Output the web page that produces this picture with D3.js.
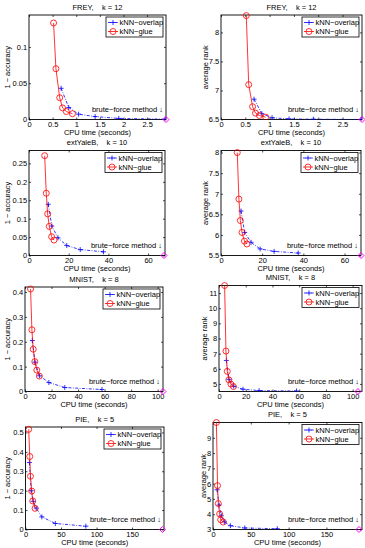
<!DOCTYPE html>
<html>
<head>
<meta charset="utf-8">
<script src="https://cdn.jsdelivr.net/npm/d3@7"></script>
<style>
  body { margin: 0; background: #fff; }
  svg { display: block; font-family: "Liberation Sans", Arial, sans-serif; }
</style>
</head>
<body>
<div id="chart"></div>
<script>
// ---- data ----
const titles = ["FREY,    k = 12", "extYaleB,    k = 10", "MNIST,    k = 8", "PIE,    k = 5"];
const seriesNames = ["kNN\u2212overlap", "kNN\u2212glue"];
const bruteLabel = "brute\u2212force method \u2193";

// CPU time (seconds)
const overlapTime = [
  [0.68, 0.84, 1.05, 1.4, 1.9, 2.88],
  [9.7, 11.5, 14.6, 19, 25.8, 37.5],
  [5.5, 7.5, 11, 18, 30, 58],
  [5.5, 8, 11, 15, 23, 42, 85]
];
const glueTime = [
  [0.52, 0.57, 0.65, 0.71, 0.79, 0.92],
  [7.9, 8.7, 9.4, 10.2, 11.4, 12.6],
  [4.2, 5.2, 6.2, 7.4, 8.9, 10.8],
  [4.5, 6, 7, 8.8, 10.2, 13.5]
];
// 1 - accuracy
const overlapErr = [
  [0.043, 0.0166, 0.0073, 0.004, 0.0015, 0.0004],
  [0.139, 0.080, 0.048, 0.027, 0.016, 0.010],
  [0.205, 0.118, 0.063, 0.036, 0.016, 0.008],
  [0.345, 0.20, 0.145, 0.11, 0.065, 0.031, 0.017]
];
const glueErr = [
  [0.133, 0.070, 0.030, 0.016, 0.011, 0.008],
  [0.271, 0.169, 0.113, 0.079, 0.051, 0.042],
  [0.412, 0.248, 0.170, 0.120, 0.086, 0.062],
  [0.516, 0.376, 0.274, 0.198, 0.147, 0.109]
];
// average rank
const overlapRank = [
  [6.85, 6.6, 6.53, 6.51, 6.505, 6.5],
  [6.58, 6.06, 5.82, 5.66, 5.6, 5.56],
  [6.55, 5.3, 4.85, 4.65, 4.56, 4.53],
  [5.6, 4.6, 3.9, 3.5, 3.25, 3.1, 3.05]
];
const glueRank = [
  [8.29, 7.1, 6.72, 6.61, 6.57, 6.54],
  [8.0, 6.87, 6.35, 6.06, 5.85, 5.78],
  [11.5, 7.17, 5.83, 5.27, 4.99, 4.83],
  [10.0, 5.87, 4.70, 4.02, 3.64, 3.49]
];
// brute force: CPU time, error 0, rank (k+1)/2
const bruteTime = [2.9, 68, 104, 193];
const bruteRank = [6.5, 5.5, 4.5, 3];

// axis limits and ticks
const xMaxLeft = [2.9, 68.5, 104, 195];
const xMaxRight = [2.9, 68, 107, 197];
const xTicks = [[0, 0.5, 1, 1.5, 2, 2.5], [0, 20, 40, 60], [0, 20, 40, 60, 80, 100], [0, 50, 100, 150]];
const errLim = [[0, 0.144], [0, 0.285], [0, 0.42], [0, 0.528]];
const errTicks = [[0, 0.05, 0.1], [0, 0.05, 0.1, 0.15, 0.2, 0.25], [0, 0.1, 0.2, 0.3, 0.4], [0, 0.1, 0.2, 0.3, 0.4, 0.5]];
const rankLim = [[6.5, 8.3], [5.5, 8.05], [4.5, 11.5], [3, 10]];
const rankTicks = [[6.5, 7, 7.5, 8], [5.5, 6, 6.5, 7, 7.5, 8], [5, 6, 7, 8, 9, 10, 11], [3, 4, 5, 6, 7, 8, 9]];

// axes boxes [left, top, right, bottom], y-label baseline x
const leftBoxes = [[29, 15, 166, 119.5], [29, 150.5, 165, 255.5], [25, 287, 163, 391.5], [25.5, 427, 164, 529.5]];
const rightBoxes = [[221, 15, 362, 119.5], [221, 150.5, 361, 255.5], [219, 285.5, 362, 391.5], [213, 422.5, 362, 529.5]];
const leftYLabelX = [10, 10, 10, 10];
const rightYLabelX = [207.5, 207.5, 207, 205.5];

const W = 365, H = 548;
const fs = 7.5;

const svg = d3.select("#chart").append("svg")
  .attr("width", W).attr("height", H);

const fmt = d => String(+d.toFixed(3));

function drawPanel(box, xMax, yLim, yTicksV, ti, yLabel, yLabelX, ovX, ovY, glX, glY, bfX, bfY) {
  const [l, t, r, b] = box;
  const x = d3.scaleLinear().domain([0, xMax]).range([l, r]);
  const y = d3.scaleLinear().domain(yLim).range([b, t]);
  const g = svg.append("g");

  // clip for the data lines
  const id = "clip" + Math.round(l) + "_" + Math.round(t);
  svg.append("clipPath").attr("id", id)
    .append("rect").attr("x", l).attr("y", t - 4).attr("width", r - l).attr("height", b - t + 4);

  // axes with inward ticks on all four sides
  g.append("g").attr("transform", `translate(0,${b})`)
    .call(d3.axisBottom(x).tickValues(xTicks[ti]).tickFormat(fmt).tickSizeInner(-2).tickSizeOuter(0).tickPadding(2.2));
  g.append("g").attr("transform", `translate(0,${t})`)
    .call(d3.axisTop(x).tickValues(xTicks[ti]).tickFormat("").tickSizeInner(-2).tickSizeOuter(0));
  g.append("g").attr("transform", `translate(${l},0)`)
    .call(d3.axisLeft(y).tickValues(yTicksV).tickFormat(fmt).tickSizeInner(-2).tickSizeOuter(0).tickPadding(1.8));
  g.append("g").attr("transform", `translate(${r},0)`)
    .call(d3.axisRight(y).tickValues(yTicksV).tickFormat("").tickSizeInner(-2).tickSizeOuter(0));
  g.selectAll(".domain").remove();
  g.selectAll(".tick line").attr("stroke", "#000").attr("stroke-width", 0.7);
  g.selectAll(".tick text").attr("font-size", fs).attr("font-family", null).attr("fill", "#000");

  g.append("rect").attr("x", l).attr("y", t).attr("width", r - l).attr("height", b - t)
    .attr("fill", "none").attr("stroke", "#000").attr("stroke-width", 0.9);

  // labels
  g.append("text").attr("x", (l + r) / 2).attr("y", t - 5.5).attr("text-anchor", "middle")
    .attr("font-size", fs).style("white-space", "pre").text(titles[ti]);
  g.append("text").attr("x", (l + r) / 2).attr("y", b + 15.8).attr("text-anchor", "middle")
    .attr("font-size", fs).text("CPU time (seconds)");
  g.append("text").attr("transform", `translate(${yLabelX},${(t + b) / 2}) rotate(-90)`)
    .attr("text-anchor", "middle").attr("font-size", fs).text(yLabel);

  g.append("text").attr("x", r - 3).attr("y", b - 8).attr("text-anchor", "end")
    .attr("font-size", fs).text(bruteLabel);

  // series
  const line = d3.line().x(d => x(d[0])).y(d => y(d[1]));
  const ov = ovX.map((v, i) => [v, ovY[i]]);
  const gl = glX.map((v, i) => [v, glY[i]]);
  const data = g.append("g").attr("clip-path", `url(#${id})`);

  data.append("path").datum(ov).attr("d", line).attr("fill", "none")
    .attr("stroke", "#00f").attr("stroke-width", 0.8).attr("stroke-dasharray", "3,1.5,0.8,1.5");
  data.selectAll(".plus").data(ov).enter().append("path")
    .attr("d", d => `M${x(d[0]) - 2.5},${y(d[1])}h5M${x(d[0])},${y(d[1]) - 2.5}v5`)
    .attr("stroke", "#00f").attr("stroke-width", 0.8);

  data.append("path").datum(gl).attr("d", line).attr("fill", "none")
    .attr("stroke", "#f00").attr("stroke-width", 0.8);
  data.selectAll(".circ").data(gl).enter().append("circle")
    .attr("cx", d => x(d[0])).attr("cy", d => y(d[1])).attr("r", 3)
    .attr("fill", "none").attr("stroke", "#f00").attr("stroke-width", 0.8);

  // brute-force diamond
  g.append("path")
    .attr("d", `M${x(bfX)},${y(bfY) - 3}l3,3l-3,3l-3,-3z`)
    .attr("fill", "none").attr("stroke", "#f0f").attr("stroke-width", 1);

  // legend
  const lw = 57, lh = 20;
  const lx = r - 3 - lw, ly = t + 2;
  const lg = g.append("g");
  lg.append("rect").attr("x", lx).attr("y", ly).attr("width", lw).attr("height", lh)
    .attr("fill", "#fff").attr("stroke", "#000").attr("stroke-width", 0.8);
  const r1 = ly + 5.5, r2 = ly + 14.5;
  lg.append("line").attr("x1", lx + 2).attr("x2", lx + 12).attr("y1", r1).attr("y2", r1)
    .attr("stroke", "#00f").attr("stroke-width", 0.8).attr("stroke-dasharray", "3,1.5,0.8,1.5");
  lg.append("path").attr("d", `M${lx + 4.5},${r1}h5M${lx + 7},${r1 - 2.5}v5`)
    .attr("stroke", "#00f").attr("stroke-width", 0.8);
  lg.append("line").attr("x1", lx + 2).attr("x2", lx + 12).attr("y1", r2).attr("y2", r2)
    .attr("stroke", "#f00").attr("stroke-width", 0.8);
  lg.append("circle").attr("cx", lx + 7).attr("cy", r2).attr("r", 3)
    .attr("fill", "none").attr("stroke", "#f00").attr("stroke-width", 0.8);
  lg.append("text").attr("x", lx + 13.5).attr("y", r1 + 2.7).attr("font-size", fs).text(seriesNames[0]);
  lg.append("text").attr("x", lx + 13.5).attr("y", r2 + 2.7).attr("font-size", fs).text(seriesNames[1]);
}

titles.forEach((tt, i) => {
  drawPanel(leftBoxes[i], xMaxLeft[i], errLim[i], errTicks[i], i, "1 \u2212 accuracy", leftYLabelX[i],
    overlapTime[i], overlapErr[i], glueTime[i], glueErr[i], bruteTime[i], 0);
  drawPanel(rightBoxes[i], xMaxRight[i], rankLim[i], rankTicks[i], i, "average rank", rightYLabelX[i],
    overlapTime[i], overlapRank[i], glueTime[i], glueRank[i], bruteTime[i], bruteRank[i]);
});
</script>
</body>
</html>
